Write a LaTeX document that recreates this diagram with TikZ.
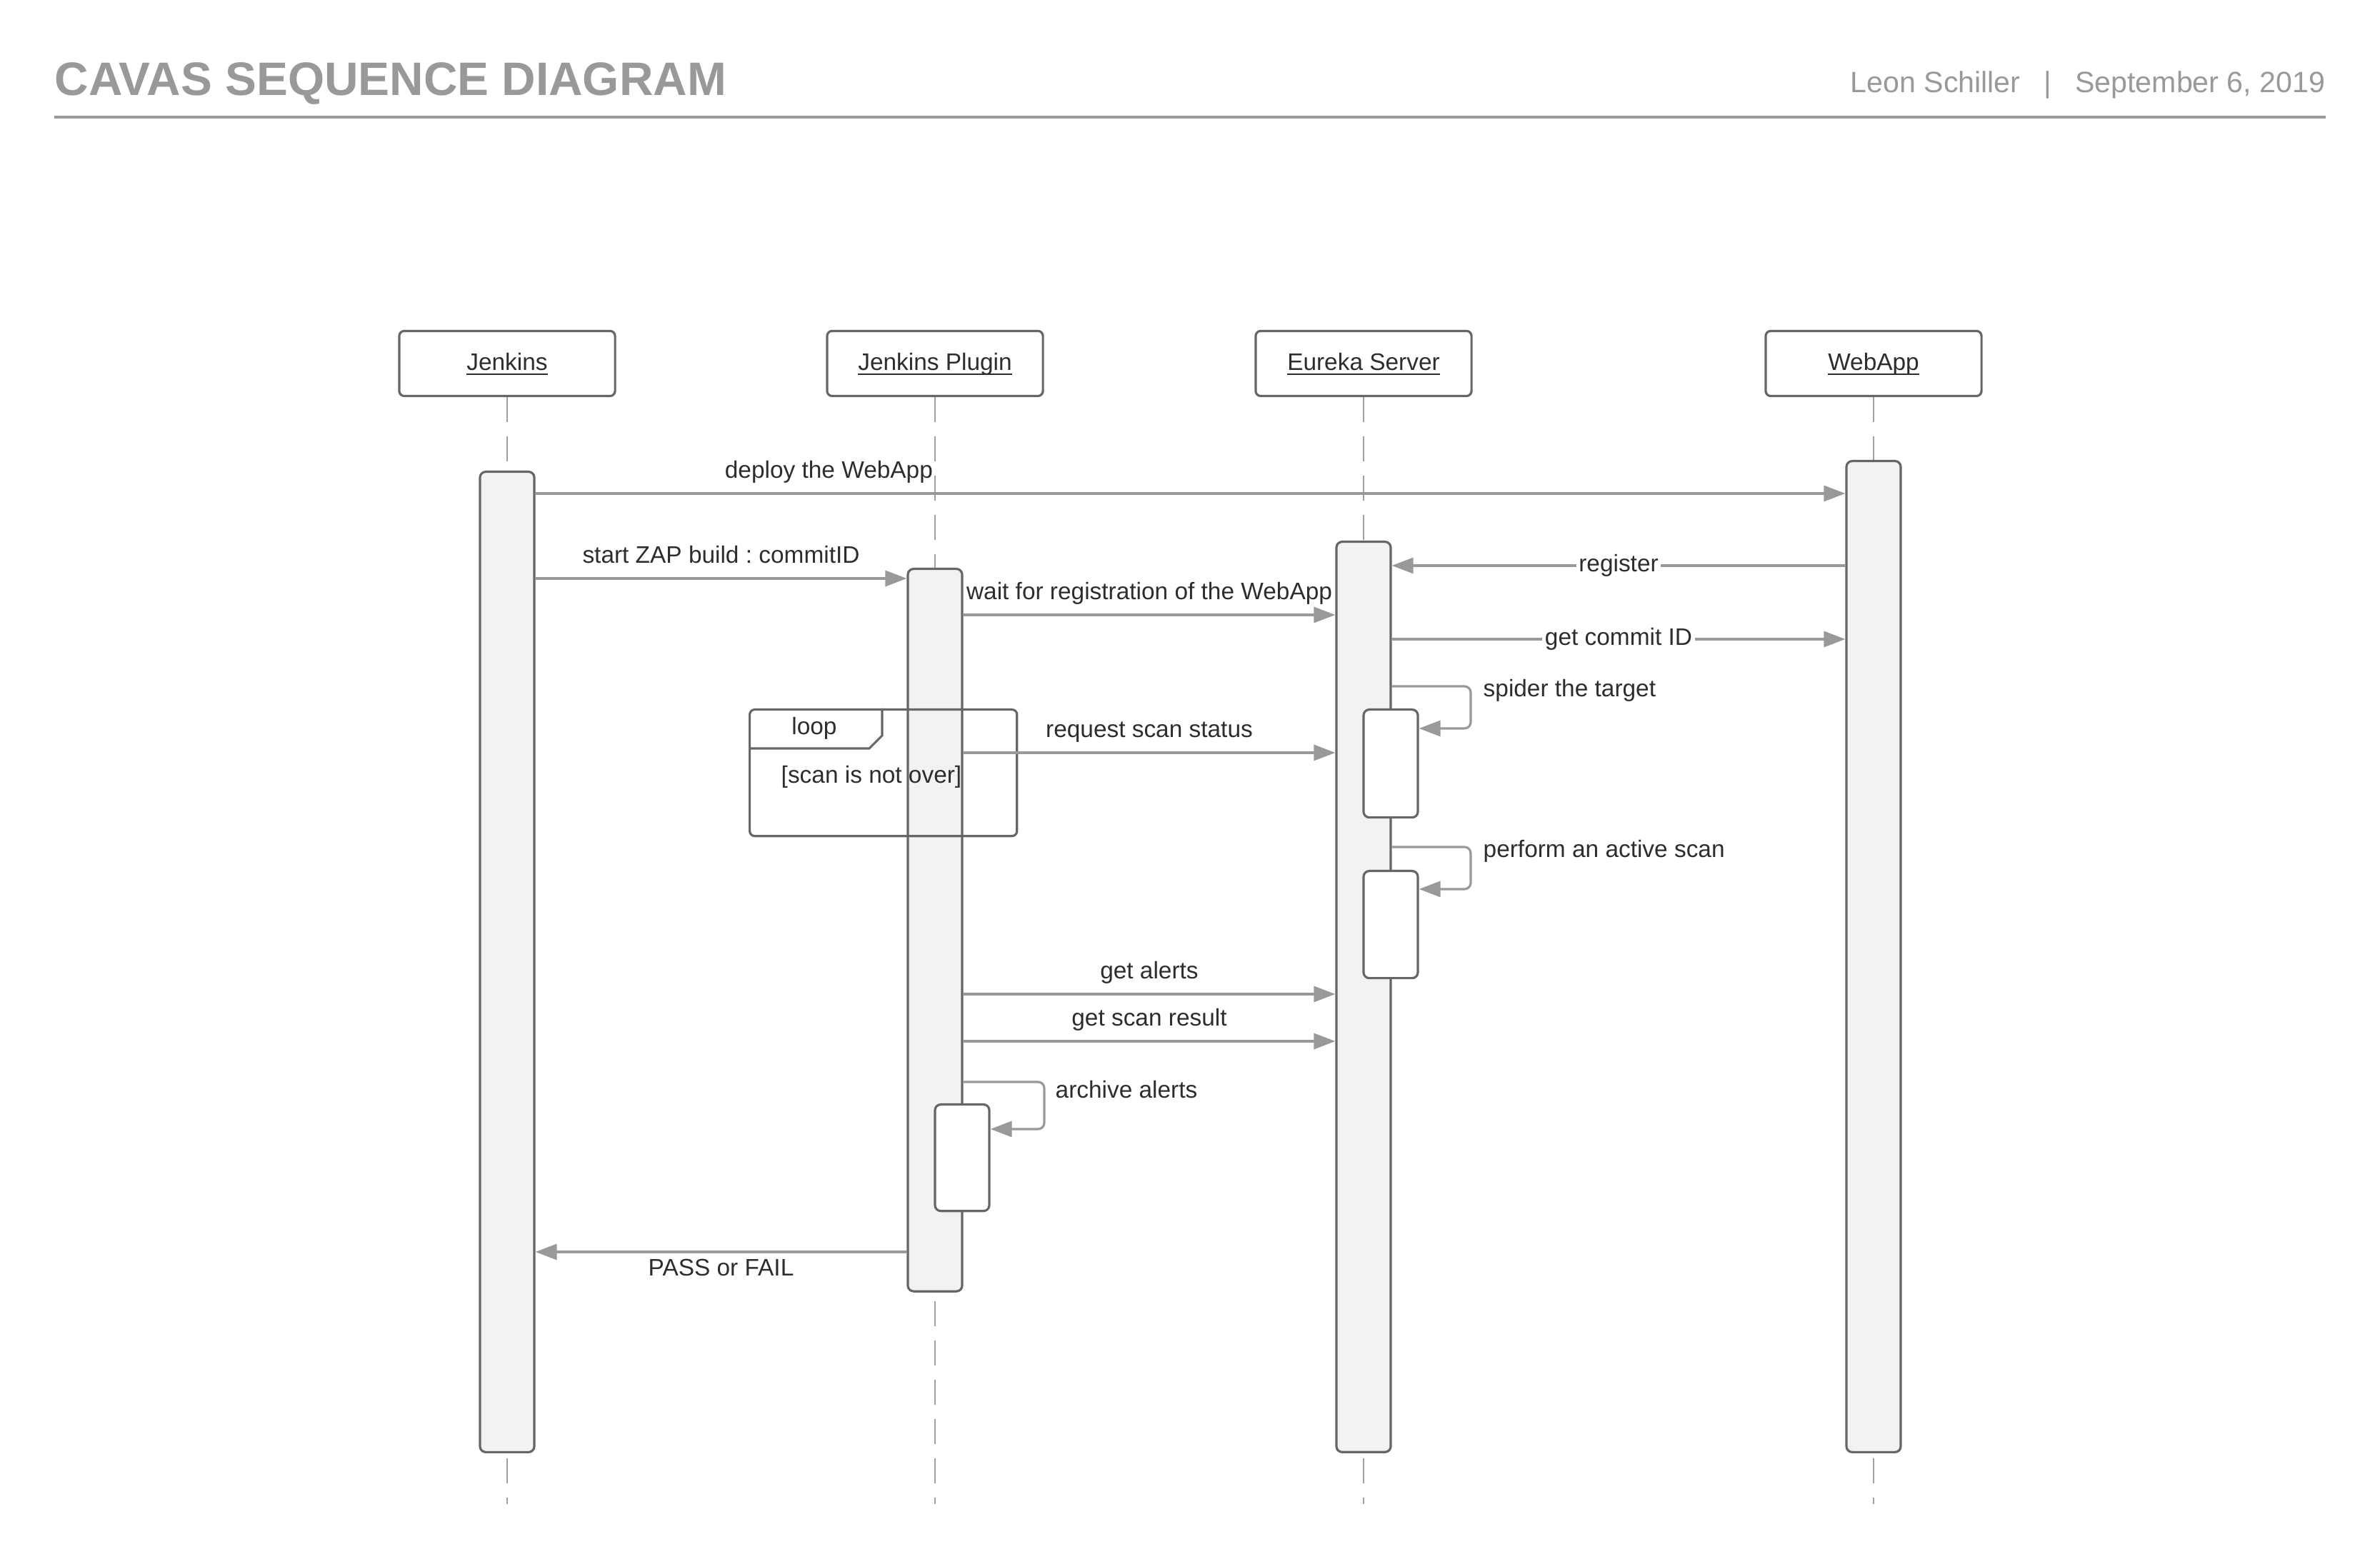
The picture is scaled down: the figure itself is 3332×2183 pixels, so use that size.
\documentclass[tikz,border=0pt]{standalone}
\usepackage{fontspec}
\setmainfont{Liberation Sans}
\usetikzlibrary{arrows.meta,positioning}

\definecolor{boxgray}{RGB}{102,102,102}
\definecolor{arrowgray}{RGB}{153,153,153}
\definecolor{lifegray}{RGB}{160,160,160}
\definecolor{actfill}{RGB}{242,242,242}
\definecolor{txtgray}{RGB}{45,45,45}
\definecolor{headgray}{RGB}{153,153,153}
\newcommand{\lblfont}{\fontsize{9.5}{11}\selectfont}
\frenchspacing

\begin{document}
\begin{tikzpicture}[x=0.01cm, y=-0.01cm,
    >={Triangle[length=0.3cm,width=0.22cm]},
    actor/.style={ draw=boxgray, line width=0.9pt, rounded corners=2pt,
      minimum width=3.02cm, minimum height=0.91cm, inner sep=0pt,
      text height=0.25cm, text depth=0.05cm,
      font=\lblfont, text=txtgray },
    lifeline/.style={ draw=lifegray, line width=0.8pt,
      dash pattern=on 0.35cm off 0.2cm },
    act/.style={ draw=boxgray, fill=actfill, line width=0.9pt,
      rounded corners=2.3pt, minimum width=0.76cm, inner sep=0pt,
      anchor=north },
    sub/.style={ act, fill=white },
    frame/.style={ draw=boxgray, line width=0.9pt, rounded corners=2pt,
      inner sep=0pt, anchor=north west },
    msg/.style={ ->, draw=arrowgray, line width=0.9pt },
    lbl/.style={ font=\lblfont, text=txtgray, inner sep=0pt },
    onlbl/.style={ lbl, fill=white, inner sep=1pt } ]
  \useasboundingbox (0,0) rectangle (3332,2183);

  % header
  \node[anchor=base west, inner sep=0pt, text=headgray,
    font=\fontsize{18.7}{22}\selectfont\bfseries] (title) at (76,134)
    {CAVAS SEQUENCE DIAGRAM};
  \node[anchor=base east, inner sep=0pt, text=headgray,
    font=\fontsize{11.7}{14}\selectfont] (author) at (3256,130)
    {Leon Schiller\hspace{0.33cm}|\hspace{0.33cm}September 6, 2019};
  \draw[headgray, line width=1pt] (76,164) -- (3256,164);

  % participants and lifelines
  \foreach \n/\x/\l in {jen/710/Jenkins, plg/1309/Jenkins Plugin,
    eur/1909/Eureka Server, web/2623/WebApp} {
    \node[actor] (\n) at (\x,509) {\underline{\smash{\l}}};
    \coordinate (\n-end) at (\x,2106);
    \draw[lifeline] (\n.south) -- (\n-end);
  }

  % activations
  \foreach \n/\x/\t/\h in {jen/710/659/13.72, plg/1309/795/10.11,
    eur/1909/757/12.74, web/2623/644/13.87}
  \node[act, minimum height=\h cm] (\n-a) at (\x,\t) {};
  \node[sub, minimum height=1.51cm] (eur-s1) at (1947,992) {};
  \node[sub, minimum height=1.50cm] (eur-s2) at (1947,1218) {};
  \node[sub, minimum height=1.49cm] (plg-s) at (1347,1545) {};

  % loop fragment
  \node[frame, minimum width=3.74cm, minimum height=1.77cm] (loop)
    at (1048,992) {};
  \draw[boxgray, line width=0.9pt] (loop.west |- 0,1048) -- (1217,1048)
    -- (1235,1030) -- (loop.north -| 1235,0);
  \node[lbl] (loop-t) at (1140,1020) {loop};
  \node[lbl] (loop-g) at (1220,1088) {[scan is not over]};

  % messages
  \draw[msg] (jen-a.east |- 0,691) -- (web-a.west |- 0,691)
    node[lbl, pos=0.224, anchor=base, yshift=0.21cm] {deploy the WebApp};
  \draw[msg] (jen-a.east |- 0,810) -- (plg-a.west |- 0,810)
    node[lbl, midway, anchor=base, yshift=0.21cm] {start ZAP build : commitID};
  \draw[msg] (web-a.west |- 0,792) -- (eur-a.east |- 0,792)
    node[onlbl, midway] {register};
  \draw[msg] (plg-a.east |- 0,861) -- (eur-a.west |- 0,861)
    node[lbl, midway, anchor=base, yshift=0.21cm] {wait for registration of the WebApp};
  \draw[msg] (eur-a.east |- 0,895) -- (web-a.west |- 0,895)
    node[onlbl, midway] {get commit ID};
  \draw[msg, rounded corners=2.5pt] (eur-a.east |- 0,961) -| (2059,1020)
    -- (eur-s1.east |- 0,1020);
  \node[lbl, anchor=west] (spider) at (2076,967) {spider the target};
  \draw[msg] (plg-a.east |- 0,1054) -- (eur-a.west |- 0,1054)
    node[lbl, midway, anchor=base, yshift=0.21cm] {request scan status};
  \draw[msg, rounded corners=2.5pt] (eur-a.east |- 0,1186) -| (2059,1245)
    -- (eur-s2.east |- 0,1245);
  \node[lbl, anchor=west] (active) at (2076,1192) {perform an active scan};
  \draw[msg] (plg-a.east |- 0,1392) -- (eur-a.west |- 0,1392)
    node[lbl, midway, anchor=base, yshift=0.21cm] {get alerts};
  \draw[msg] (plg-a.east |- 0,1458) -- (eur-a.west |- 0,1458)
    node[lbl, midway, anchor=base, yshift=0.21cm] {get scan result};
  \draw[msg, rounded corners=2.5pt] (plg-a.east |- 0,1515) -| (1462,1581)
    -- (plg-s.east |- 0,1581);
  \node[lbl, anchor=west] (archive) at (1477,1526) {archive alerts};
  \draw[msg] (plg-a.west |- 0,1753) -- (jen-a.east |- 0,1753)
    node[lbl, midway, anchor=base, yshift=-0.33cm] {PASS or FAIL};
\end{tikzpicture}
\end{document}
